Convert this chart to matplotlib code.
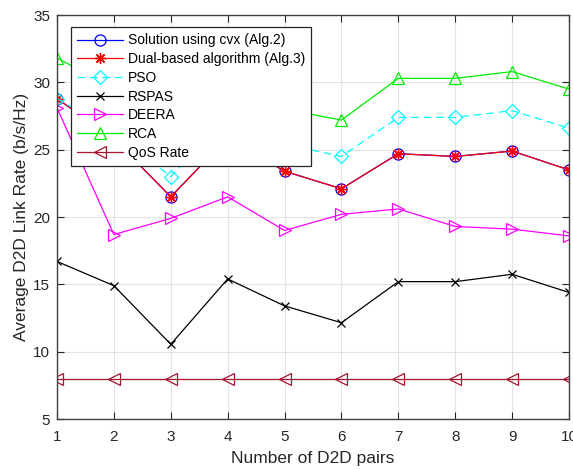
import numpy as np
import matplotlib
matplotlib.use('Agg')
import matplotlib.pyplot as plt

plt.rcParams['font.family'] = ['Liberation Sans', 'DejaVu Sans']

# Number of D2D pairs
pairs = [1, 2, 3, 4, 5, 6, 7, 8, 9, 10]

# Average link rate (b/s/Hz) for each scheme
cvxRate = [28.8, 25.8, 21.5, 25.9, 23.4, 22.1, 24.7, 24.5, 24.9, 23.5]
dualRate = [28.8, 25.8, 21.5, 25.9, 23.4, 22.1, 24.7, 24.5, 24.9, 23.5]
psoRate = [28.8, 26.3, 23.0, 27.5, 25.4, 24.5, 27.4, 27.4, 27.9, 26.6]
rspasRate = [16.7, 14.9, 10.55, 15.4, 13.4, 12.15, 15.2, 15.2, 15.75, 14.4]
deeraRate = [28.1, 18.7, 19.9, 21.5, 19.0, 20.2, 20.6, 19.3, 19.1, 18.6]
rcaRate = [31.8, 29.6, 26.5, 29.8, 28.0, 27.2, 30.3, 30.3, 30.8, 29.5]
qosRate = [8, 8, 8, 8, 8, 8, 8, 8, 8, 8]

xTicks = [1, 2, 3, 4, 5, 6, 7, 8, 9, 10]
yTicks = [5, 10, 15, 20, 25, 30, 35]

qosColor = (0.64, 0.08, 0.18)
textColor = '#262626'

fig = plt.figure(figsize=(5.73, 4.70), dpi=100)
ax = fig.add_axes([0.0995, 0.1085, 0.8935, 0.8595])

lw = 0.9
ms = 8
ax.plot(pairs, cvxRate, '-o', color='blue', lw=lw, ms=ms, mfc='none', mew=0.9,
        label='Solution using cvx (Alg.2)')
# MATLAB-like asterisk marker
ax.plot(pairs, dualRate, '-', marker=(8, 2, 0), color='red', lw=lw, ms=8, mew=1.0,
        label='Dual-based algorithm (Alg.3)')
ax.plot(pairs, psoRate, '--D', color='cyan', lw=lw, ms=7, mfc='none', mew=0.9,
        dashes=(6, 4), label='PSO')
ax.plot(pairs, rspasRate, '-x', color='black', lw=lw, ms=6, mew=0.9,
        label='RSPAS')
ax.plot(pairs, deeraRate, '->', color='magenta', lw=lw, ms=ms, mfc='none', mew=0.9,
        label='DEERA')
ax.plot(pairs, rcaRate, '-^', color='#00ee00', lw=lw, ms=ms, mfc='none', mew=0.9,
        label='RCA')
ax.plot(pairs, qosRate, '-<', color=qosColor, lw=lw, ms=ms, mfc='none', mew=0.9,
        label='QoS Rate')

ax.set_xlim(1, 10)
ax.set_ylim(5, 35)
ax.set_xticks(xTicks)
ax.set_yticks(yTicks)
ax.grid(True, color='#e3e3e3', lw=0.8)
ax.set_axisbelow(True)
ax.tick_params(direction='in', length=5, top=True, right=True, labelsize=11,
               colors=textColor, width=0.8)
ax.tick_params(axis='x', pad=8)
ax.tick_params(axis='y', pad=5)
for s in ax.spines.values():
    s.set_color('#404040')
    s.set_linewidth(1.0)

ax.set_xlabel('Number of D2D pairs', fontsize=12.5, color=textColor, labelpad=5)
ax.set_ylabel('Average D2D Link Rate (b/s/Hz)', fontsize=12.5, color=textColor, labelpad=3)

leg = ax.legend(loc='upper left', bbox_to_anchor=(0.027, 0.97), fontsize=10,
                fancybox=False, framealpha=1, edgecolor=textColor,
                handlelength=3.3, labelspacing=0.34, borderaxespad=0,
                handletextpad=0.35, borderpad=0.45)
leg.get_frame().set_linewidth(0.9)

fig.savefig('out.png', dpi=100)
